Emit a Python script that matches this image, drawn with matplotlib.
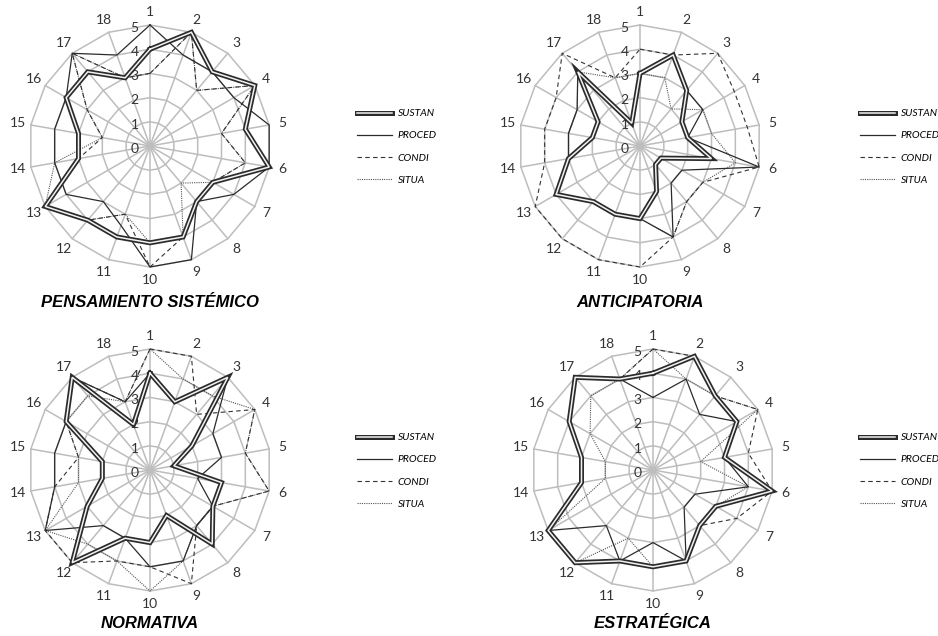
import numpy as np
import matplotlib.pyplot as plt
import matplotlib.patheffects as pe
from matplotlib.lines import Line2D

ejes = [str(i) for i in range(1, 19)]
niveles = [0, 1, 2, 3, 4, 5]
series = ['SUSTAN', 'PROCED', 'CONDI', 'SITUA']

# puntuaciones por competencia (18 items, escala 0-5)
sistemico_sustan = [4, 5, 4, 5, 4, 5, 3, 3, 4, 4, 4, 4, 5, 3, 3, 4, 4, 3]
sistemico_proced = [5, 4, 4, 4, 5, 5, 4, 3, 5, 5, 3.5, 3, 4, 4, 4, 4, 5, 4]
sistemico_condi = [3, 5, 3, 5, 3, 4, 3, 3, 4, 5, 3, 4, 5, 3, 2, 3, 5, 3]
sistemico_situa = [3, 5, 3, 5, 3, 4, 3, 2, 4, 4, 3, 4, 5, 4, 2, 3, 5, 3]

anticip_sustan = [3, 4, 3, 2, 2, 3, 1, 1, 2, 3, 3, 3, 4, 3, 2, 2, 4, 1]
anticip_proced = [3, 4, 3, 3, 2, 5, 2, 2, 4, 3, 3, 3, 4, 3, 3, 3, 4, 1]
anticip_condi = [4, 4, 5, 4.5, 4.5, 5, 3, 3, 4, 5, 5, 5, 5, 4, 4, 4, 5, 3]
anticip_situa = [3, 3, 2, 3, 3, 4, 3, 3, 4, 3, 3, 3, 4, 3, 3, 3, 4, 3]

normativa_sustan = [4, 3, 5, 2, 1, 3, 3, 4, 2, 3, 3, 5, 3, 2, 2, 4, 5, 2]
normativa_proced = [4, 3, 5, 3, 3, 2, 3, 3, 4, 4, 3, 3, 5, 4, 4, 4, 5, 3]
normativa_condi = [5, 5, 3, 5, 4, 5, 3, 3, 5, 4, 4, 5, 5, 4, 3, 4, 5, 3]
normativa_situa = [5, 4, 4, 5, 4, 5, 3, 3, 4, 5, 4, 4, 5, 3, 3, 4, 4, 3]

estrateg_sustan = [4, 5, 4, 4, 3, 5, 3, 3, 4, 4, 4, 5, 5, 3, 3, 4, 5, 4]
estrateg_proced = [3, 4, 3, 4, 3, 4, 2, 2, 4, 3, 4, 3, 5, 3, 3, 4, 5, 4]
estrateg_condi = [5, 5, 4, 5, 4, 5, 4, 3, 4, 4, 4, 5, 5, 3, 3, 4, 5, 4]
estrateg_situa = [5, 4, 4, 5, 2, 4, 3, 3, 4, 4, 3, 5, 5, 2, 2, 3, 4, 4]

paneles = [
    ('PENSAMIENTO SISTÉMICO', (150, 146),
     [sistemico_sustan, sistemico_proced, sistemico_condi, sistemico_situa]),
    ('ANTICIPATORIA', (640, 146),
     [anticip_sustan, anticip_proced, anticip_condi, anticip_situa]),
    ('NORMATIVA', (150, 470),
     [normativa_sustan, normativa_proced, normativa_condi, normativa_situa]),
    ('ESTRATÉGICA', (653, 470),
     [estrateg_sustan, estrateg_proced, estrateg_condi, estrateg_situa]),
]
leyenda_x = [357, 860, 357, 860]
titulo_y = [303, 303, 624, 624]

W, H = 938, 636
R = 121
GRIS = '#bdbdbd'
TINTA = '#2b2b2b'

# linea doble: trazo claro fino sobre trazo oscuro grueso
DOBLE = dict(color='#f2f2f2', lw=1.1, solid_joinstyle='miter',
             path_effects=[pe.Stroke(linewidth=3.6, foreground=TINTA), pe.Normal()])
PROC = dict(color=TINTA, lw=0.9)
COND = dict(color='#333333', lw=0.8, ls=(0, (4, 3)))
SITU = dict(color='#555555', lw=0.8, ls=(0, (1, 1)))

plt.rcParams['font.family'] = ['Lato', 'DejaVu Sans']
fig = plt.figure(figsize=(W / 100, H / 100), dpi=100)

ang = np.linspace(0, 2 * np.pi, len(ejes), endpoint=False)
ang_c = np.append(ang, ang[0])


def cerrar(v):
    return np.append(v, v[0])


for k, (titulo, (cx, cy), datos) in enumerate(paneles):
    ax = fig.add_axes([(cx - R) / W, (H - cy - R) / H, 2 * R / W, 2 * R / H],
                      projection='polar')
    ax.set_theta_zero_location('N')
    ax.set_theta_direction(-1)
    ax.set_ylim(0, 5)
    ax.axis('off')

    # rejilla poligonal y radios
    for n in niveles[1:]:
        ax.plot(ang_c, [n] * len(ang_c), color=GRIS, lw=1.1, zorder=1, clip_on=False)
    for a in ang:
        ax.plot([a, a], [0, 5], color=GRIS, lw=1.1, zorder=1, clip_on=False)
    for n in niveles:
        ax.annotate(str(n), (0, n), xytext=(-11, -2), textcoords='offset points',
                    ha='center', va='center', fontsize=10, color='#333333')
    for a, lab in zip(ang, ejes):
        ax.text(a, 5.55, lab, ha='center', va='center', fontsize=10, color='#333333')

    sus, pro, con, sit = [cerrar(np.array(d)) for d in datos]
    ax.plot(ang_c, sit, zorder=2, clip_on=False, **SITU)
    ax.plot(ang_c, con, zorder=3, clip_on=False, **COND)
    ax.plot(ang_c, pro, zorder=4, clip_on=False, **PROC)
    ax.plot(ang_c, sus, zorder=5, clip_on=False, **DOBLE)

    fig.text(cx / W, 1 - titulo_y[k] / H, titulo,
             ha='center', va='center', fontsize=12, fontweight='bold',
             fontstyle='italic', family='Liberation Sans', color='black')

    manejadores = [Line2D([], [], **DOBLE), Line2D([], [], **PROC),
                   Line2D([], [], **COND), Line2D([], [], **SITU)]
    ax.legend(manejadores, series,
              loc='center left', bbox_to_anchor=(leyenda_x[k] / W, 1 - (cy + 1) / H),
              bbox_transform=fig.transFigure, frameon=False, borderpad=0,
              borderaxespad=0, handlelength=3.4, handletextpad=0.5,
              labelspacing=1.25, prop={'size': 7.5, 'style': 'italic'})

fig.savefig('out.png', dpi=100, facecolor='white')
